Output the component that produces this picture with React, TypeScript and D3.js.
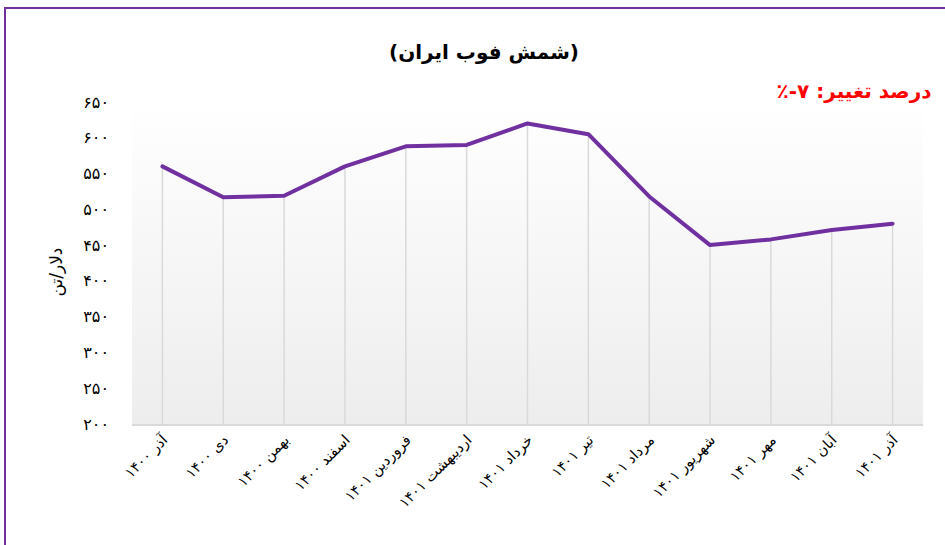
import React from "react";
import * as d3 from "d3";

const categories: string[] = [
  "آذر ۱۴۰۰",
  "دی ۱۴۰۰",
  "بهمن ۱۴۰۰",
  "اسفند ۱۴۰۰",
  "فروردین ۱۴۰۱",
  "اردیبهشت ۱۴۰۱",
  "خرداد ۱۴۰۱",
  "تیر ۱۴۰۱",
  "مرداد ۱۴۰۱",
  "شهریور ۱۴۰۱",
  "مهر ۱۴۰۱",
  "آبان ۱۴۰۱",
  "آذر ۱۴۰۱",
];
const values: number[] = [560, 517, 519, 560, 588, 590, 620, 605, 518, 450, 458, 471, 480];
const yTicks: number[] = [200, 250, 300, 350, 400, 450, 500, 550, 600, 650];
const title = "(شمش فوب ایران)";
const changeText = "درصد تغییر: ۷-٪";
const yTitle = "دلار/تن";

const toFa = (n: number) => String(n).replace(/\d/g, (d) => "۰۱۲۳۴۵۶۷۸۹"[+d]);

const W = 945;
const H = 545;
const plot = { left: 132, right: 923, top: 101, bottom: 425 };
const FONT = "'DejaVu Sans', sans-serif";
const PURPLE = "#7030a0";

export default function App() {
  const x = d3
    .scaleBand<string>()
    .domain(categories)
    .range([plot.left, plot.right]);
  const y = d3.scaleLinear().domain([200, 650]).range([424, 102]);
  const cx = (c: string) => (x(c) as number) + x.bandwidth() / 2;

  const line = d3
    .line<number>()
    .x((_, i) => cx(categories[i]))
    .y((v) => y(v));

  return (
    <svg
      width={W}
      height={H}
      style={{ position: "absolute", left: 0, top: 0, background: "#fff" }}
      fontFamily={FONT}
    >
      <defs>
        <linearGradient id="bg" x1="0" y1="0" x2="0" y2="1">
          <stop offset="0" stopColor="#ffffff" />
          <stop offset="1" stopColor="#ededed" />
        </linearGradient>
      </defs>
      {/* outer border */}
      <rect x={5} y={8} width={W + 20} height={H + 20} fill="none" stroke={PURPLE} strokeWidth={2} />

      {/* plot background */}
      <rect
        x={plot.left}
        y={plot.top}
        width={plot.right - plot.left}
        height={plot.bottom - plot.top}
        fill="url(#bg)"
      />
      <line x1={plot.left} x2={plot.right} y1={plot.bottom} y2={plot.bottom} stroke="#d9d9d9" strokeWidth={2} />

      {/* drop lines */}
      {values.map((v, i) => (
        <line
          key={"d" + i}
          x1={cx(categories[i])}
          x2={cx(categories[i])}
          y1={y(v)}
          y2={plot.bottom}
          stroke="#d9d9d9"
          strokeWidth={1.5}
        />
      ))}

      {/* line */}
      <path d={line(values) || ""} fill="none" stroke={PURPLE} strokeWidth={4} strokeLinejoin="round" strokeLinecap="round" />

      {/* y tick labels */}
      {yTicks.map((t) => (
        <text key={"y" + t} x={109} y={y(t)} dy="0.35em" textAnchor="end" fontSize={16} fill="#000">
          {toFa(t)}
        </text>
      ))}

      {/* y title */}
      <text
        transform={`translate(62,${272}) rotate(-90)`}
        textAnchor="middle"
        fontSize={17}
        direction="rtl"
        fill="#000"
      >
        {yTitle}
      </text>

      {/* x labels */}
      {categories.map((c) => (
        <text
          key={"x" + c}
          transform={`translate(${cx(c) + 6},${441}) rotate(-45)`}
          textAnchor="end"
          fontSize={14.5}
          fill="#000"
        >
          {c}
        </text>
      ))}

      {/* title */}
      <text x={484} y={59} textAnchor="middle" fontSize={20} fontWeight="bold" direction="rtl" fill="#000">
        {title}
      </text>

      {/* change text */}
      <text x={854} y={98} textAnchor="middle" fontSize={20} fontWeight="bold" direction="rtl" fill="#ff0000">
        {changeText}
      </text>
    </svg>
  );
}
